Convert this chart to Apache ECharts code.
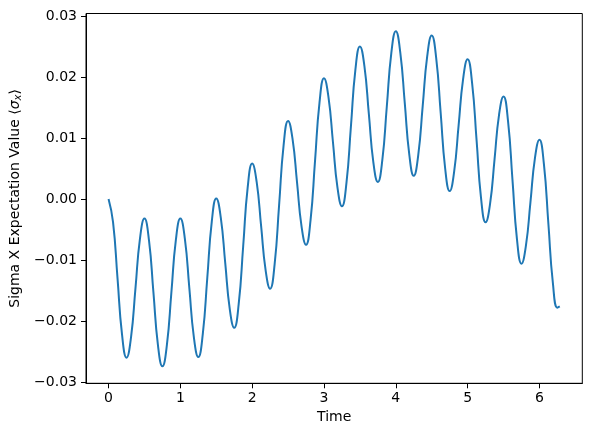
<!DOCTYPE html>
<html>
<head>
<meta charset="utf-8">
<script src="https://cdn.jsdelivr.net/npm/echarts@6/dist/echarts.min.js"></script>
<style>
html,body{margin:0;padding:0;background:#fff;}
#chart{width:591px;height:436px;}
</style>
</head>
<body>
<div id="chart"></div>
<script>
// Time samples
const timeValues = [
  0, 0.0625, 0.125, 0.1875, 0.25, 0.3125, 0.375, 0.4375,
  0.5, 0.5625, 0.625, 0.6875, 0.75, 0.8125, 0.875, 0.9375,
  1.0, 1.0625, 1.125, 1.1875, 1.25, 1.3125, 1.375, 1.4375,
  1.5, 1.5625, 1.625, 1.6875, 1.75, 1.8125, 1.875, 1.9375,
  2.0, 2.0625, 2.125, 2.1875, 2.25, 2.3125, 2.375, 2.4375,
  2.5, 2.5625, 2.625, 2.6875, 2.75, 2.8125, 2.875, 2.9375,
  3.0, 3.0625, 3.125, 3.1875, 3.25, 3.3125, 3.375, 3.4375,
  3.5, 3.5625, 3.625, 3.6875, 3.75, 3.8125, 3.875, 3.9375,
  4.0, 4.0625, 4.125, 4.1875, 4.25, 4.3125, 4.375, 4.4375,
  4.5, 4.5625, 4.625, 4.6875, 4.75, 4.8125, 4.875, 4.9375,
  5.0, 5.0625, 5.125, 5.1875, 5.25, 5.3125, 5.375, 5.4375,
  5.5, 5.5625, 5.625, 5.6875, 5.75, 5.8125, 5.875, 5.9375,
  6.0, 6.0625, 6.125, 6.1875, 6.25, 6.2832
];
// Sigma X expectation values
const sigmaX = [
  0.0000, -0.0038, -0.0130, -0.0222, -0.0260, -0.0227, -0.0146, -0.0065,
  -0.0032, -0.0067, -0.0153, -0.0239, -0.0274, -0.0239, -0.0153, -0.0067,
  -0.0032, -0.0065, -0.0146, -0.0226, -0.0259, -0.0221, -0.0129, -0.0037,
  0.0001, -0.0030, -0.0105, -0.0180, -0.0211, -0.0172, -0.0077, 0.0019,
  0.0058, 0.0028, -0.0045, -0.0117, -0.0147, -0.0107, -0.0010, 0.0088,
  0.0128, 0.0098, 0.0027, -0.0045, -0.0075, -0.0035, 0.0062, 0.0158,
  0.0198, 0.0167, 0.0093, 0.0019, -0.0012, 0.0026, 0.0119, 0.0212,
  0.0250, 0.0218, 0.0139, 0.0060, 0.0028, 0.0064, 0.0152, 0.0239,
  0.0275, 0.0240, 0.0157, 0.0073, 0.0038, 0.0072, 0.0153, 0.0234,
  0.0268, 0.0231, 0.0141, 0.0050, 0.0013, 0.0045, 0.0121, 0.0197,
  0.0229, 0.0190, 0.0096, 0.0001, -0.0038, -0.0008, 0.0065, 0.0138,
  0.0168, 0.0128, 0.0031, -0.0066, -0.0106, -0.0076, -0.0005, 0.0067,
  0.0097, 0.0057, -0.0041, -0.0138, -0.0178, -0.0176
];
const xTicks = [0, 1, 2, 3, 4, 5, 6];
const yTicks = [-0.03, -0.02, -0.01, 0.00, 0.01, 0.02, 0.03];

const data = timeValues.map((t, i) => [t, sigmaX[i]]);
const fmtY = v => (v < 0 ? '\u2212' : '') + Math.abs(v).toFixed(2);
const font = 'DejaVu Sans';

const chart = echarts.init(document.getElementById('chart'));
chart.setOption({
  animation: false,
  backgroundColor: '#fff',
  grid: {
    left: 86, top: 13.5, width: 496.3, height: 369.8,
    show: true, borderColor: '#000', borderWidth: 1, backgroundColor: 'transparent'
  },
  xAxis: {
    type: 'value', min: -0.314, max: 6.597,
    name: 'Time', nameLocation: 'middle', nameGap: 25,
    nameTextStyle: { fontFamily: font, fontSize: 14, color: '#000' },
    axisLine: { show: true, onZero: false, lineStyle: { color: '#000', width: 1 } },
    axisTick: { show: true, inside: false, length: 5, customValues: xTicks, lineStyle: { color: '#000', width: 1 } },
    axisLabel: { customValues: xTicks, margin: 8, fontFamily: font, fontSize: 14, color: '#000',
      formatter: v => String(Math.round(v)) },
    splitLine: { show: false }
  },
  yAxis: {
    type: 'value', min: -0.0302, max: 0.0304,
    name: '{n|Sigma X Expectation Value \u27E8}{g|\u03C3}{s|x}{n|\u27E9}',
    nameLocation: 'middle', nameGap: 58, nameRotate: 90,
    nameTextStyle: {
      fontFamily: font, fontSize: 14, color: '#000',
      rich: {
        n: { fontFamily: font, fontSize: 14, color: '#000' },
        g: { fontFamily: font, fontSize: 14, color: '#000', fontStyle: 'italic' },
        s: { fontFamily: font, fontSize: 10, color: '#000', fontStyle: 'italic', padding: [6, 0, 0, 0] }
      }
    },
    axisLine: { show: true, onZero: false, lineStyle: { color: '#000', width: 1 } },
    axisTick: { show: true, inside: false, length: 5, customValues: yTicks, lineStyle: { color: '#000', width: 1 } },
    axisLabel: { customValues: yTicks, margin: 9, fontFamily: font, fontSize: 14, color: '#000', formatter: fmtY },
    splitLine: { show: false }
  },
  series: [{
    type: 'line',
    data: data,
    showSymbol: false,
    smooth: 0.5,
    lineStyle: { color: '#1f77b4', width: 2 },
    itemStyle: { color: '#1f77b4' }
  }]
});
</script>
</body>
</html>
